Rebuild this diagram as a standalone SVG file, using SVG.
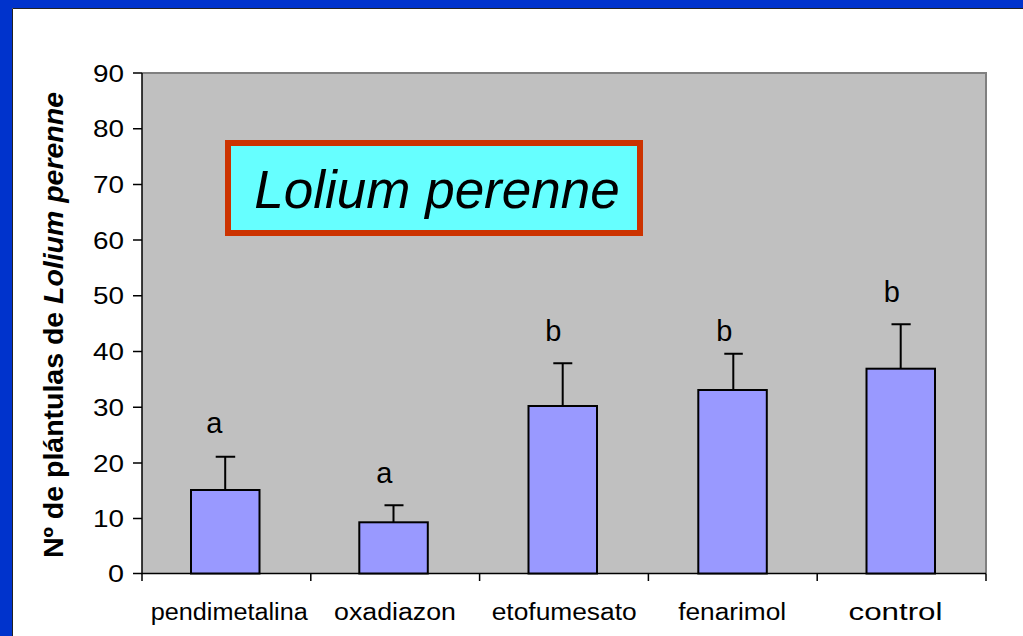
<svg xmlns="http://www.w3.org/2000/svg" width="1023" height="636" viewBox="0 0 1023 636">
<style>
.t{font-family:"Liberation Sans",Arial,sans-serif;fill:#000}
.tick{font-size:23px;text-anchor:end}
.cat{font-size:23px;text-anchor:middle}
.sig{font-size:29px;text-anchor:middle}
.bar{fill:#9999ff;stroke:#000;stroke-width:2}
.err{stroke:#000;stroke-width:2;fill:none}
.ax{stroke:#000;stroke-width:1.5;fill:none}
</style>
<rect x="0" y="0" width="1023" height="636" fill="#0033cc"/>
<rect x="12" y="8" width="1011" height="628" fill="#ffffff"/>
<path d="M12.5 636 V8.5 H1023" stroke="#222" stroke-width="1" fill="none"/>
<g id="plot">
<rect x="142" y="73" width="844" height="500.5" fill="#c0c0c0"/>
<path d="M142 73 H986 V573.5" stroke="#808080" stroke-width="2" fill="none"/>
</g>
<g id="axes">
<path class="ax" d="M142 73 V573.5 H986"/>
<path class="ax" d="M133 73 H142 M133 128.7 H142 M133 184.4 H142 M133 240.1 H142 M133 295.8 H142 M133 351.5 H142 M133 407.2 H142 M133 462.9 H142 M133 518.6 H142 M133 573.5 H142"/>
<path class="ax" d="M142 573.5 V581 M310.8 573.5 V581 M479.6 573.5 V581 M648.4 573.5 V581 M817.2 573.5 V581 M986 573.5 V581"/>
<text class="t tick" x="124" y="81.6" textLength="31" lengthAdjust="spacingAndGlyphs">90</text>
<text class="t tick" x="124" y="137.3" textLength="31" lengthAdjust="spacingAndGlyphs">80</text>
<text class="t tick" x="124" y="193" textLength="31" lengthAdjust="spacingAndGlyphs">70</text>
<text class="t tick" x="124" y="248.7" textLength="31" lengthAdjust="spacingAndGlyphs">60</text>
<text class="t tick" x="124" y="304.4" textLength="31" lengthAdjust="spacingAndGlyphs">50</text>
<text class="t tick" x="124" y="360.1" textLength="31" lengthAdjust="spacingAndGlyphs">40</text>
<text class="t tick" x="124" y="415.8" textLength="31" lengthAdjust="spacingAndGlyphs">30</text>
<text class="t tick" x="124" y="471.5" textLength="31" lengthAdjust="spacingAndGlyphs">20</text>
<text class="t tick" x="124" y="527.2" textLength="31" lengthAdjust="spacingAndGlyphs">10</text>
<text class="t tick" x="124" y="581.8" textLength="16" lengthAdjust="spacingAndGlyphs">0</text>
</g>
<g id="ytitle">
<text class="t" transform="translate(63,325) rotate(-90)" text-anchor="middle" font-size="28" font-weight="bold" textLength="466" lengthAdjust="spacingAndGlyphs">Nº de plántulas de <tspan font-style="italic">Lolium perenne</tspan></text>
</g>
<g id="bar-pendimetalina">
<rect class="bar" x="191" y="490" width="68.5" height="83.5"/>
<text class="t sig" x="214.3" y="433.3">a</text>
<text class="t cat" x="229.2" y="620" textLength="157" lengthAdjust="spacingAndGlyphs">pendimetalina</text>
</g>
<g id="bar-oxadiazon">
<rect class="bar" x="359.3" y="522.3" width="68.5" height="51.2"/>
<text class="t sig" x="384.3" y="483.3">a</text>
<text class="t cat" x="395" y="620" textLength="122" lengthAdjust="spacingAndGlyphs">oxadiazon</text>
</g>
<g id="bar-etofumesato">
<rect class="bar" x="528.5" y="406" width="68.5" height="167.5"/>
<text class="t sig" x="553.3" y="341.3">b</text>
<text class="t cat" x="564.2" y="620" textLength="145" lengthAdjust="spacingAndGlyphs">etofumesato</text>
</g>
<g id="bar-fenarimol">
<rect class="bar" x="698.3" y="390" width="68.5" height="183.5"/>
<text class="t sig" x="724.3" y="341.3">b</text>
<text class="t cat" x="732.2" y="620" textLength="108" lengthAdjust="spacingAndGlyphs">fenarimol</text>
</g>
<g id="bar-control">
<rect class="bar" x="866.5" y="368.7" width="68.5" height="204.8"/>
<text class="t sig" x="891.7" y="301.7">b</text>
<text class="t cat" x="895.5" y="620" textLength="94" lengthAdjust="spacingAndGlyphs">control</text>
</g>
<g id="errorbars">
<path class="err" d="M225.2 490 V456.7 M215.7 456.7 H235.2"/>
<path class="err" d="M393.5 522.3 V505.3 M384.5 505.3 H403.5"/>
<path class="err" d="M562.7 406 V363.3 M553.3 363.3 H572.3"/>
<path class="err" d="M733.3 390 V353.7 M724.3 353.7 H742.8"/>
<path class="err" d="M900.7 368.7 V324.3 M891.5 324.3 H910.7"/>
</g>
<g id="title-box">
<rect x="228" y="143" width="412" height="90" fill="#66ffff" stroke="#cc3300" stroke-width="6"/>
<text class="t" x="437" y="208" text-anchor="middle" font-size="53" font-style="italic">Lolium perenne</text>
</g>
</svg>
